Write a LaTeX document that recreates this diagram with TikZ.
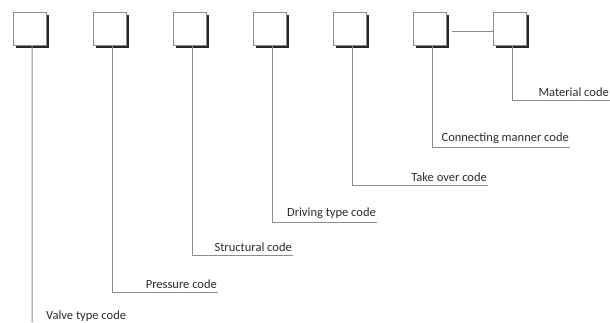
\documentclass[tikz,border=0pt]{standalone}
\usepackage{fontspec}
\setmainfont{Carlito}
\usepackage{xcolor}
\usetikzlibrary{positioning,calc,shadows}

\definecolor{linegray}{HTML}{8C8C8C}
\definecolor{textgray}{HTML}{2A2A2A}

\tikzset{
    codebox/.style={draw=linegray, fill=white, line width=0.9bp, minimum size=33bp, inner sep=0pt,
        drop shadow={shadow xshift=2.5bp, shadow yshift=-2.5bp, fill=black!85, opacity=1}},
    codeline/.style={draw=linegray, line width=1bp},
    codelabel/.style={font=\fontsize{12.5bp}{14bp}\selectfont, text=textgray, inner sep=1bp}
}

\begin{document}
\begin{tikzpicture}[x=1bp,y=-1bp]
    \useasboundingbox (0,0) rectangle (610,322);

    % The seven code boxes
    \foreach \i in {1,...,7} {
        \node [codebox] (b\i) at (30+80*\i-80, 28.5) {};
    }

    % Box 6 joined to box 7
    \draw [codeline] ([xshift=5bp,yshift=-3bp]b6.east) -- ([yshift=-3bp]b7.west);

    % Leader lines and labels (2-7)
    \foreach \i/\y/\xe/\label in {2/292/218/Pressure code, 3/255/293/Structural code, 4/222/377/Driving type code, 5/185/488/Take over code, 6/147/570/Connecting manner code, 7/100/610/Material code} {
        \coordinate (e\i) at (\xe, \y);
        \node [codelabel, anchor=south east] (l\i) at ([yshift=2bp]e\i) {\label};
        \draw [codeline] ([xshift=2bp]b\i.south) |- (e\i);
    }

    % Valve type code runs to the bottom edge
    \coordinate (e1) at (32, 322);
    \draw [codeline] ([xshift=2bp]b1.south) -- (e1);
    \node [codelabel, anchor=base west] (l1) at (45, 319) {Valve type code};
\end{tikzpicture}
\end{document}
